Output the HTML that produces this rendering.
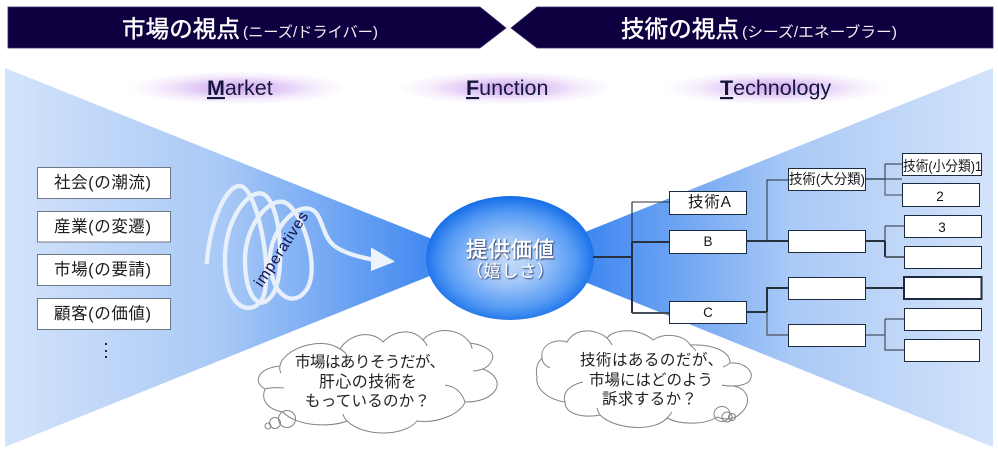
<!DOCTYPE html>
<html lang="ja"><head><meta charset="utf-8"><title>MFT</title>
<style>
html,body{margin:0;padding:0;background:#fff;width:998px;height:458px;overflow:hidden}
svg{display:block}
text{font-family:"Liberation Sans","Noto Sans CJK JP",sans-serif}
</style></head><body>
<svg width="998" height="458" viewBox="0 0 998 458" xmlns="http://www.w3.org/2000/svg">
<defs>
<linearGradient id="gl" gradientUnits="userSpaceOnUse" x1="5" y1="0" x2="440" y2="0">
<stop offset="0" stop-color="#d3e3fa"/><stop offset=".5" stop-color="#a9c9f6"/><stop offset="1" stop-color="#3d86f0"/></linearGradient>
<linearGradient id="gr" gradientUnits="userSpaceOnUse" x1="993" y1="0" x2="585" y2="0">
<stop offset="0" stop-color="#d3e3fa"/><stop offset=".5" stop-color="#a9c9f6"/><stop offset="1" stop-color="#3d86f0"/></linearGradient>
<radialGradient id="glow"><stop offset="0" stop-color="#cfa8f0"/><stop offset=".35" stop-color="#e0c6f5"/><stop offset=".7" stop-color="#f5ecfc"/><stop offset="1" stop-color="#fff"/></radialGradient>
<radialGradient id="orb" cx=".5" cy=".52" r=".52"><stop offset="0" stop-color="#c4dcfb"/><stop offset=".35" stop-color="#a3c7f8"/><stop offset=".75" stop-color="#549af4"/><stop offset="1" stop-color="#146ce8"/></radialGradient>
<filter id="sh" x="-20%" y="-30%" width="140%" height="160%"><feDropShadow dx="1" dy="1" stdDeviation=".7" flood-color="#1d2a55" flood-opacity=".95"/></filter>
</defs>

<polygon points="8,7 480,7 506,28 480,48 8,48" fill="#0e0040" stroke="#3b2a6e" stroke-width=".8"/>
<polygon points="537,7 993,7 993,48 537,48 511,28" fill="#0e0040" stroke="#3b2a6e" stroke-width=".8"/>
<text x="122" y="37" font-size="23.5" fill="#fff" textLength="118" lengthAdjust="spacing" stroke="#fff" stroke-width=".5">市場の視点</text>
<text x="243" y="37" font-size="15" fill="#f0f0f5" textLength="135" lengthAdjust="spacingAndGlyphs">(ニーズ/ドライバー)</text>
<text x="621" y="37" font-size="23.5" fill="#fff" textLength="118" lengthAdjust="spacing" stroke="#fff" stroke-width=".5">技術の視点</text>
<text x="742" y="37" font-size="15" fill="#f0f0f5" textLength="155" lengthAdjust="spacingAndGlyphs">(シーズ/エネーブラー)</text>

<ellipse cx="238" cy="88" rx="110" ry="17" fill="url(#glow)"/>
<ellipse cx="506" cy="88" rx="108" ry="17" fill="url(#glow)"/>
<ellipse cx="776" cy="88" rx="112" ry="17" fill="url(#glow)"/>
<text x="207" y="95" font-size="21.5" fill="#15173f"><tspan font-weight="bold" text-decoration="underline">M</tspan>arket</text>
<text x="466" y="95" font-size="21.5" fill="#15173f"><tspan font-weight="bold" text-decoration="underline">F</tspan>unction</text>
<text x="720" y="95" font-size="21.5" fill="#15173f"><tspan font-weight="bold" text-decoration="underline">T</tspan>echnology</text>

<polygon points="5,68 5,447 477,257" fill="url(#gl)"/>
<polygon points="993,68 993,447 523,257" fill="url(#gr)"/>

<g fill="#fff" stroke="#6f7886" stroke-width="1">
<rect x="37.5" y="167.5" width="133" height="31"/>
<rect x="37.5" y="211.5" width="133" height="30.5"/>
<rect x="37.5" y="254.5" width="133" height="31"/>
<rect x="37.5" y="298.5" width="133" height="31"/>
</g>
<g font-size="16.5" fill="#1c1c1c">
<text x="54" y="188" textLength="97">社会(の潮流)</text>
<text x="54" y="232" textLength="97">産業(の変遷)</text>
<text x="54" y="275" textLength="97">市場(の要請)</text>
<text x="54" y="319" textLength="97">顧客(の価値)</text>
</g>
<g fill="#1c2440"><rect x="105" y="343" width="2" height="2"/><rect x="105" y="350" width="2" height="2"/><rect x="105" y="356" width="2" height="2"/></g>

<g transform="translate(190 170) scale(.3333)">
<path d="M50 282C60 150 110 45 150 48C200 50 250 300 220 380C195 440 105 430 105 270C105 150 170 68 210 70C270 72 290 300 250 370C215 430 165 390 165 270C165 170 230 92 275 95C330 98 400 300 345 365C300 420 235 360 240 260C245 180 310 112 350 115C400 118 390 190 430 225C460 250 510 262 555 270" fill="none" stroke="#e8f0fb" stroke-width="13"/>
<polygon points="543,232 615,275 543,303" fill="#edf3fc"/>
</g>
<text transform="translate(262 288) rotate(-57)" font-size="15.5" fill="#12124e" textLength="86">imperatives</text>

<ellipse cx="510" cy="258" rx="84" ry="62" fill="url(#orb)"/>

<g fill="none" stroke="#27303f">
<path d="M593 257H632" stroke-width="2"/>
<path d="M632 202V257" stroke-width="1.2"/>
<path d="M632 202H669" stroke-width="1"/>
<path d="M632 242H669M632 242V313" stroke-width="2"/>
<path d="M632 313H669" stroke="#454d59" stroke-width="2"/>
<path d="M747 241H788" stroke-width="2"/>
<path d="M767 241V180H788" stroke-width="1"/>
<path d="M866 179H885" stroke-width="1.2"/>
<path d="M885 164V179H902M885 164H902" stroke-width="1"/>
<path d="M885 179V195H902" stroke="#5a6472" stroke-width="1.2"/>
<path d="M866 241H885" stroke-width="2"/>
<path d="M885 226V241H885M885 226H904" stroke-width="1"/>
<path d="M885 241V257" stroke-width="2"/>
<path d="M885 257H904" stroke="#5a6472" stroke-width="2"/>
<path d="M747 312H767M767 312V288H788" stroke-width="2"/>
<path d="M767 312V335H788" stroke="#5a6472" stroke-width="1.4"/>
<path d="M866 288H904" stroke-width="2"/>
<path d="M866 335H885M885 319V335M885 319H904" stroke-width="1"/>
<path d="M885 335V350H904" stroke="#5a6472" stroke-width="1.4"/>
</g>

<g fill="#fff" stroke="#1c2a3e" stroke-width="1">
<rect x="669.5" y="191.5" width="77" height="23"/>
<rect x="669.5" y="230.5" width="77" height="23"/>
<rect x="669.5" y="301.5" width="77" height="22"/>
<rect x="788.5" y="168.5" width="77" height="22"/>
<rect x="788.5" y="230.5" width="77" height="22"/>
<rect x="788.5" y="277.5" width="77" height="22"/>
<rect x="788.5" y="324.5" width="77" height="22"/>
<rect x="902.5" y="153.5" width="79" height="22"/>
<rect x="902.5" y="183.5" width="77" height="23"/>
<rect x="904.5" y="215.5" width="77" height="22"/>
<rect x="904.5" y="246.5" width="77" height="22"/>
<rect x="904" y="277" width="77.5" height="22" stroke-width="2"/>
<rect x="904.5" y="308.5" width="77" height="22"/>
<rect x="904.5" y="339.5" width="75" height="22"/>
</g>
<g font-size="14" fill="#15171c">
<text x="688" y="207" font-size="15.5" textLength="43">技術A</text>
<text x="708" y="246" text-anchor="middle" font-size="13.5">B</text>
<text x="708" y="317" text-anchor="middle" font-size="13.5">C</text>
<text x="789" y="184" textLength="76" lengthAdjust="spacingAndGlyphs">技術(大分類)</text>
<text x="903" y="171" textLength="79" lengthAdjust="spacingAndGlyphs">技術(小分類)1</text>
<text x="940" y="201" text-anchor="middle" font-size="13.5">2</text>
<text x="942" y="232" text-anchor="middle" font-size="13.5">3</text>
</g>

<g filter="url(#sh)" fill="#fff">
<text x="466" y="257" font-size="21.5" textLength="88" stroke="#fff" stroke-width=".4">提供価値</text>
<text x="466" y="277" font-size="17" textLength="88">（嬉しさ）</text>
</g>

<path d="M280 366C282 350 320 335 340 349C350 333 372 330 383 342C395 330 412 328 423 340C435 326 460 328 470 343C485 345 496 352 492 360C490 365 487 367 483 369C498 375 500 385 494 392C487 400 475 402 465 402C462 412 440 424 417 421C405 436 365 438 347 421C330 428 295 426 283 412C270 410 260 402 265 389C252 382 258 368 280 366Z" fill="#fff" stroke="#808488"/>
<g fill="none" stroke="#808488">
<path d="M280 366Q279 370 281 373M340 349Q344 351 346 354M423 340Q426 343 427 346M470 343Q472 346 472 349M483 369Q477 371 473 371M445 385Q460 387 465 402M265 389Q272 387 284 388M347 421Q344 418 343 414"/>
<circle cx="287" cy="419" r="8.5"/><circle cx="275" cy="423" r="5.5"/><circle cx="268" cy="426" r="3"/>
</g>
<g font-size="15.5" fill="#222">
<text x="295" y="367" textLength="150">市場はありそうだが、</text>
<text x="319" y="387" font-size="16" textLength="98">肝心の技術を</text>
<text x="305" y="406" textLength="125">もっているのか？</text>
</g>

<path d="M542 358C540 345 555 338 567 342C575 328 595 328 607 338C615 328 640 328 653 340C665 332 685 335 690 345C710 344 730 350 730 363C745 362 755 372 750 380C748 384 740 386 733 386C748 388 752 402 742 412C735 420 725 420 717 417C705 425 680 425 667 418C655 432 615 430 600 415C585 418 565 415 565 402C550 400 535 390 537 377C535 368 538 362 542 358Z" fill="#fff" stroke="#808488"/>
<g fill="none" stroke="#808488">
<path d="M542 358C542 363 546 366 550 368M565 402C562 392 570 385 583 382M607 338Q610 341 612 345M690 345Q694 348 696 351M730 363Q726 366 723 367M733 386Q726 386 722 385M667 418Q670 415 672 412M600 415Q598 412 597 408"/>
<ellipse cx="722" cy="414" rx="8" ry="7.5"/><circle cx="727" cy="417" r="5"/><circle cx="732" cy="417" r="3.5"/>
</g>
<g font-size="15.5" fill="#222">
<text x="580" y="365" textLength="143">技術はあるのだが、</text>
<text x="589" y="385" textLength="124">市場にはどのよう</text>
<text x="602" y="404" textLength="95">訴求するか？</text>
</g>
</svg>
</body></html>
